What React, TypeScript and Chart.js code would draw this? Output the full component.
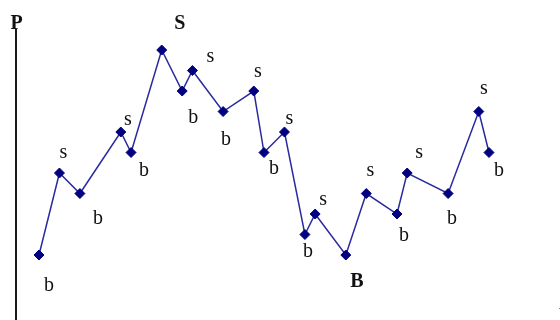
import React, { useEffect, useRef } from "react";
import { Chart, registerables } from "chart.js";

Chart.register(...registerables);

// Time steps of each turning point and the price level reached there
const timeSteps = [0, 2, 4, 8, 9, 12, 14, 15, 18, 21, 22, 24, 26, 27, 30, 32, 35, 36, 40, 43, 44];
const priceLevels = [0, 4, 3, 6, 5, 10, 8, 9, 7, 8, 5, 6, 1, 2, 0, 3, 2, 4, 3, 7, 5];
// Buy / sell tags; capitals mark the overall sell high and buy low
const tradeTags = ["b", "s", "b", "s", "b", "S", "b", "s", "b", "s", "b", "s", "b", "s", "B", "s", "b", "s", "b", "s", "b"];

// Where each tag sits relative to its marker (text baseline, px)
const tagNudge: [number, number][] = [
  [10, 36], [4, -15], [18, 30], [7, -7], [13, 23], [18, -21], [11, 32],
  [18, -9], [3, 33], [4, -14], [10, 21], [5, -8], [3, 22], [8, -9],
  [11, 32], [4, -18], [7, 27], [12, -15], [4, 30], [5, -18], [10, 23],
];

const axisTitle = "P";
const timeTitle = "t";

const tagsPlugin = {
  id: "tradeTags",
  afterDatasetsDraw(chart: any) {
    const ctx = chart.ctx as CanvasRenderingContext2D;
    const meta = chart.getDatasetMeta(0);
    ctx.save();
    // price axis
    ctx.strokeStyle = "#1a1a1a";
    ctx.lineWidth = 2;
    ctx.beginPath();
    ctx.moveTo(16, 29);
    ctx.lineTo(16, 320);
    ctx.stroke();

    ctx.fillStyle = "#111";
    ctx.textAlign = "center";
    ctx.textBaseline = "alphabetic";
    ctx.font = "bold 20px 'Liberation Serif', serif";
    ctx.fillText(axisTitle, 16.5, 29);
    ctx.textAlign = "left";
    ctx.font = "20px 'Liberation Serif', serif";
    ctx.fillText(timeTitle, 559, 318);

    ctx.textAlign = "center";
    meta.data.forEach((pt: any, i: number) => {
      const tag = tradeTags[i];
      const [dx, dy] = tagNudge[i];
      const strong = tag === "S" || tag === "B";
      ctx.font = (strong ? "bold " : "") + "20px 'Liberation Serif', serif";
      ctx.fillText(tag, pt.x + dx, pt.y + dy);
    });
    ctx.restore();
  },
};

export default function App() {
  const canvasRef = useRef<HTMLCanvasElement | null>(null);

  useEffect(() => {
    if (!canvasRef.current) return;
    const chart = new Chart(canvasRef.current, {
      type: "line",
      data: {
        datasets: [
          {
            data: timeSteps.map((t, i) => ({ x: t, y: priceLevels[i] })),
            borderColor: "#2a2aa0",
            borderWidth: 1.5,
            backgroundColor: "#000080",
            pointStyle: "rectRot",
            pointRadius: 5,
            pointBorderColor: "#000080",
            pointBackgroundColor: "#000080",
            pointBorderWidth: 1,
            tension: 0,
          },
        ],
      },
      options: {
        animation: false,
        responsive: false,
        maintainAspectRatio: false,
        layout: { padding: 0, autoPadding: false },
        plugins: { legend: { display: false }, tooltip: { enabled: false } },
        scales: {
          x: { type: "linear", display: false, min: -3.813, max: 50.94 },
          y: { type: "linear", display: false, min: -3.17, max: 12.44 },
        },
      },
      plugins: [tagsPlugin],
    });
    return () => chart.destroy();
  }, []);

  return (
    <div style={{ position: "fixed", left: 0, top: 0, width: 560, height: 320, background: "#fff" }}>
      <canvas ref={canvasRef} width={560} height={320} />
    </div>
  );
}
